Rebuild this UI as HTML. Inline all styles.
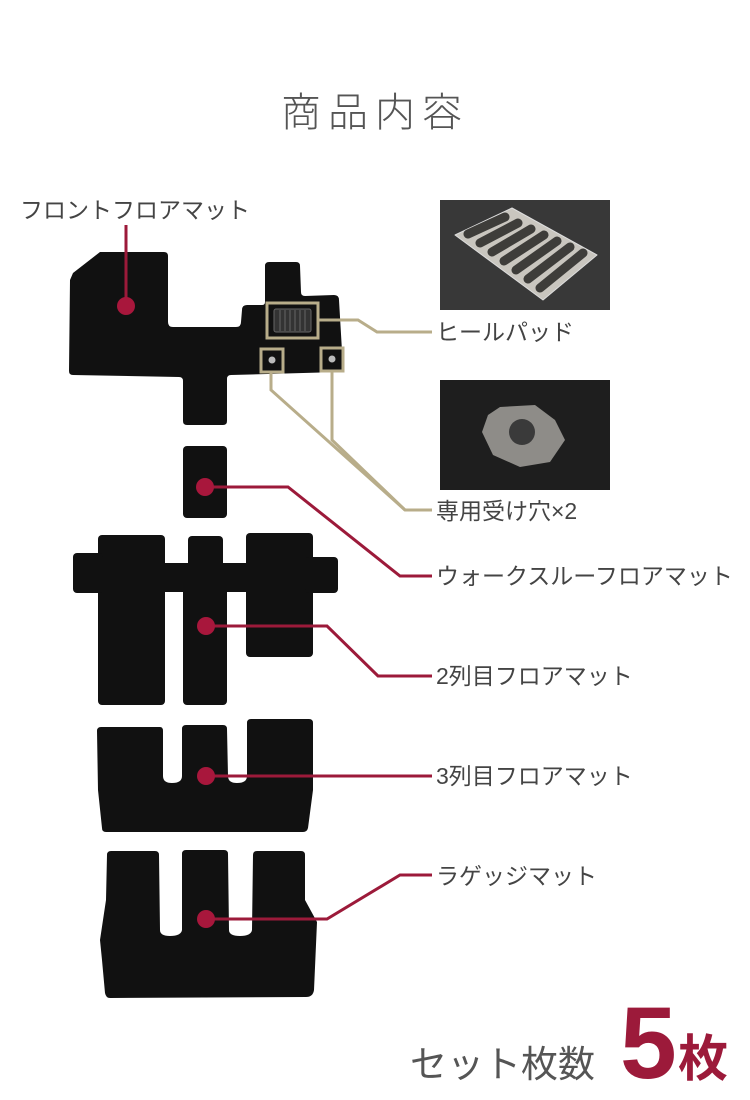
<!DOCTYPE html>
<html><head><meta charset="utf-8"><style>
html,body{margin:0;padding:0;background:#fff;}
svg{display:block;}
text{font-family:"Liberation Sans","Noto Sans CJK JP",sans-serif;}
</style></head><body>
<svg width="750" height="1100" viewBox="0 0 750 1100" xmlns="http://www.w3.org/2000/svg">
<text x="375" y="126" text-anchor="middle" font-size="40" fill="#555" letter-spacing="7" font-weight="300">商品内容</text>

<!-- front mat -->
<path d="M73,273 L100,252 L164,252 Q168,252 168,256 L168,322 Q168,327 173,327 L236,327 Q241,327 241,322 L242,310 Q242,305 247,305 L262,305 Q265,305 265,302 L265,266 Q265,262 269,262 L296,262 Q300,262 300,266 L301,292 Q301,296 305,296 L334,295 Q339,295 339,300 L343,368 Q343,372 339,372 L231,375 Q227,375 227,379 L227,421 Q227,425 223,425 L187,425 Q183,425 183,421 L183,381 Q183,377 179,377 L73,375 Q69,375 69,371 L70,280 Z" fill="#111"/>
<rect x="267" y="303" width="51" height="35" fill="none" stroke="#b8ad8a" stroke-width="3"/>
<rect x="274" y="309" width="37" height="23" rx="2" fill="#333" stroke="#666" stroke-width="1"/>
<g stroke="#666" stroke-width="1"><line x1="280" y1="310" x2="280" y2="331"/><line x1="285" y1="310" x2="285" y2="331"/><line x1="290" y1="310" x2="290" y2="331"/><line x1="295" y1="310" x2="295" y2="331"/><line x1="300" y1="310" x2="300" y2="331"/><line x1="305" y1="310" x2="305" y2="331"/></g>
<rect x="261" y="349" width="22" height="23" fill="none" stroke="#b8ad8a" stroke-width="3"/>
<rect x="321" y="348" width="22" height="23" fill="none" stroke="#b8ad8a" stroke-width="3"/>
<circle cx="272" cy="360" r="3.5" fill="#bbb"/><circle cx="332" cy="359" r="3.5" fill="#bbb"/>

<!-- tan connectors -->
<g fill="none" stroke="#b8ad8a" stroke-width="3">
<polyline points="318,320 358,320 377,332 432,332"/>
<polyline points="271,372 271,390 405,510 432,510"/>
<polyline points="332,371 332,440 405,510"/>
</g>

<!-- walk-through -->
<rect x="183" y="446" width="44" height="72" rx="4" fill="#111"/>

<!-- 2nd row -->
<g fill="#111">
<rect x="98" y="535" width="67" height="170" rx="4"/>
<rect x="73" y="553" width="30" height="40" rx="4"/>
<rect x="183" y="563" width="44" height="142" rx="4"/>
<rect x="188" y="536" width="35" height="35" rx="4"/>
<rect x="98" y="563" width="215" height="29"/>
<rect x="246" y="533" width="67" height="124" rx="4"/>
<rect x="305" y="557" width="33" height="36" rx="4"/>
</g>

<!-- 3rd row -->
<path d="M101,727 L160,727 Q163,727 163,731 L163,776 Q163,783 172,783 Q182,783 182,776 L182,729 Q182,725 186,725 L223,725 Q227,725 227,729 L228,776 Q228,783 237,783 Q247,783 247,776 L247,723 Q247,719 251,719 L309,719 Q313,719 313,723 L313,790 L308,828 Q307,832 303,832 L106,832 Q102,832 102,828 L98,790 L97,731 Q97,727 101,727 Z" fill="#111"/>

<!-- luggage -->
<path d="M111,851 L155,851 Q159,851 159,855 L160,930 Q160,936 170,936 Q181,936 182,930 L182,854 Q182,850 186,850 L224,850 Q228,850 228,854 L229,930 Q229,936 240,936 Q251,936 252,930 L253,855 Q253,851 257,851 L301,851 Q305,851 305,855 L305,900 L317,922 L314,990 Q313,997 306,997 L110,998 Q106,998 105,993 L102,960 L100,940 L106,900 L107,855 Q107,851 111,851 Z" fill="#111"/>

<!-- red connectors -->
<g fill="none" stroke="#9c1a3a" stroke-width="3">
<polyline points="126,307 126,225"/>
<polyline points="205,487 288,487 400,576 432,576"/>
<polyline points="206,626 327,626 378,676 432,676"/>
<polyline points="206,776 432,776"/>
<polyline points="206,919 327,919 400,875 432,875"/>
</g>
<g fill="#a8173c">
<circle cx="126" cy="306" r="9"/>
<circle cx="205" cy="487" r="9"/>
<circle cx="206" cy="626" r="9"/>
<circle cx="206" cy="776" r="9"/>
<circle cx="206" cy="919" r="9"/>
</g>

<!-- photos -->
<rect x="440" y="200" width="170" height="110" fill="#383838"/>
<polygon points="455,235 512,208 597,255 543,300" fill="#c9c6bf" stroke="#ddd" stroke-width="1" stroke-linejoin="round"/>
<g stroke="#3e3d3a" stroke-width="9" stroke-linecap="round">
<line x1="468" y1="234" x2="505" y2="217"/>
<line x1="480" y1="243" x2="518" y2="223"/>
<line x1="492" y1="252" x2="531" y2="229"/>
<line x1="504" y1="261" x2="544" y2="235"/>
<line x1="516" y1="270" x2="557" y2="241"/>
<line x1="528" y1="279" x2="570" y2="247"/>
<line x1="540" y1="288" x2="583" y2="253"/>
</g>
<rect x="440" y="380" width="170" height="110" fill="#1e1e1e"/>
<polygon points="500,407 535,405 555,420 565,440 550,462 520,467 493,455 482,432 488,415" fill="#8e8c88"/>
<circle cx="522" cy="432" r="13" fill="#3a3a3a"/>

<!-- labels -->
<g font-size="23" fill="#444">
<text x="20" y="218">フロントフロアマット</text>
<text x="436" y="340">ヒールパッド</text>
<text x="436" y="519">専用受け穴×2</text>
<text x="436" y="584">ウォークスルーフロアマット</text>
<text x="436" y="684">2列目フロアマット</text>
<text x="436" y="784">3列目フロアマット</text>
<text x="436" y="884">ラゲッジマット</text>
</g>
<text x="410" y="1077" font-size="37" fill="#555">セット枚数</text>
<text x="620" y="1078" font-size="102" font-weight="bold" fill="#9c1a3a">5</text>
<text x="678" y="1076" font-size="50" font-weight="bold" fill="#9c1a3a">枚</text>
</svg>
</body></html>
